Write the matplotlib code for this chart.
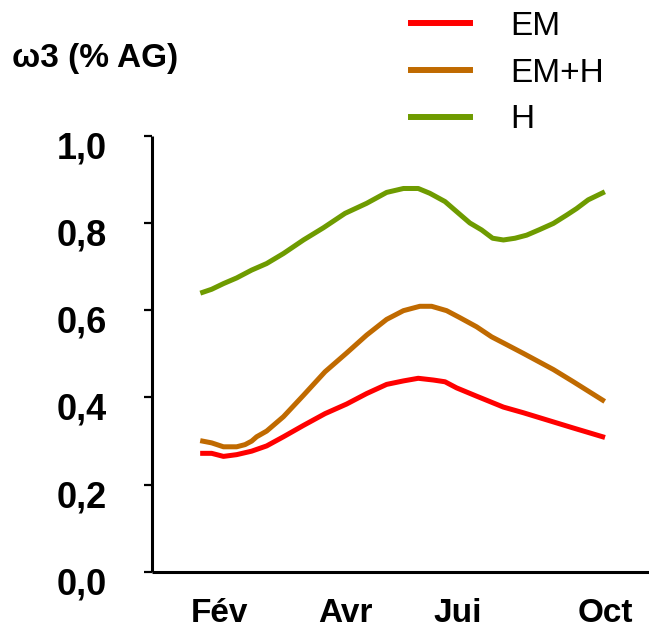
import matplotlib
matplotlib.use("Agg")
import matplotlib.pyplot as plt
import matplotlib.transforms as mtransforms

# time index (0 = first sample, 100 = last sample)
t_H = [0, 2.25, 5.2, 8.5, 12.25, 16, 20.2, 25.2, 30.2, 35.6, 41, 46, 50.2, 53.9, 56.8, 60.6, 63.5, 66.8, 69.75, 72.5, 75.2, 78.1, 81, 84.3, 87.7, 91, 93.5, 96.4, 100]
v_H = [0.641, 0.648, 0.661, 0.674, 0.692, 0.707, 0.730, 0.761, 0.789, 0.822, 0.845, 0.870, 0.879, 0.879, 0.868, 0.849, 0.826, 0.800, 0.784, 0.765, 0.761, 0.765, 0.772, 0.785, 0.799, 0.818, 0.833, 0.853, 0.869]

t_EMH = [0, 2.25, 5.2, 8.5, 10.6, 12.25, 13.5, 16, 20.2, 25.2, 30.6, 36, 41, 46, 50.2, 54.3, 57.25, 61, 64.3, 68.5, 72.25, 75.2, 80.2, 87.7, 92.7, 100]
v_EMH = [0.300, 0.296, 0.287, 0.287, 0.292, 0.300, 0.310, 0.323, 0.356, 0.405, 0.459, 0.502, 0.543, 0.579, 0.599, 0.609, 0.609, 0.599, 0.583, 0.562, 0.539, 0.525, 0.501, 0.464, 0.436, 0.394]

t_EM = [0, 2.25, 5.2, 8.5, 12.25, 16, 20.2, 25.2, 30.6, 36, 41, 46, 50.2, 53.9, 57.7, 60.6, 63.5, 68.5, 75.2, 80.2, 87.7, 92.7, 100]
v_EM = [0.272, 0.272, 0.265, 0.269, 0.277, 0.289, 0.310, 0.336, 0.363, 0.385, 0.409, 0.430, 0.438, 0.444, 0.440, 0.436, 0.422, 0.403, 0.378, 0.365, 0.344, 0.330, 0.310]

month_pos = [4.3, 35.8, 63.8, 100.6]
month_labels = ["Fév", "Avr", "Jui", "Oct"]
y_ticks = [0.0, 0.2, 0.4, 0.6, 0.8, 1.0]
y_labels = ["0,0", "0,2", "0,4", "0,6", "0,8", "1,0"]

series_names = ["EM", "EM+H", "H"]
colors = ["#ff0000", "#c06a00", "#6e9b00"]

plt.rcParams['font.family'] = ['Liberation Sans', 'DejaVu Sans']

fig = plt.figure(figsize=(6.49, 6.32), dpi=100)
ax = fig.add_axes([0.2337, 0.0949, 0.7663, 0.6904])

lines = []
for t, v, c, n in zip([t_EM, t_EMH, t_H], [v_EM, v_EMH, v_H], colors, series_names):
    ln, = ax.plot(t, v, color=c, lw=3.6, label=n, solid_joinstyle='round')
    lines.append(ln)

ax.set_xlim(-12.75, 111.6)
ax.set_ylim(0, 1.0)
for s in ["top", "right"]:
    ax.spines[s].set_visible(False)
for s in ["left", "bottom"]:
    ax.spines[s].set_linewidth(2.2)
    ax.spines[s].set_color("black")
    ax.spines[s].set_capstyle('butt')

ax.set_yticks(y_ticks)
ax.set_yticklabels(y_labels, fontsize=26, fontweight='bold')
ax.set_xticks(month_pos)
ax.set_xticklabels(month_labels, fontsize=24, fontweight='bold')
ax.tick_params(axis='y', direction='out', length=6, width=1.6, pad=26, color='black')
ax.tick_params(axis='x', length=0, pad=19)

yt = ax.yaxis.get_major_ticks()
for i in (0, len(yt) - 1):
    yt[i].tick1line.set_color('#ffff66')

off = mtransforms.ScaledTranslation(0, -9 / 100, fig.dpi_scale_trans)
for lab in ax.get_yticklabels():
    lab.set_transform(lab.get_transform() + off)

fig.text(12 / 649, 1 - 58 / 632, "ω3 (% AG)", fontsize=24, fontweight='bold',
         ha='left', va='center')

leg = fig.legend(handles=lines, labels=series_names, loc='upper left',
                 bbox_to_anchor=(411 / 649, 1 - 11 / 632), frameon=False,
                 fontsize=24, handlelength=1.77, handletextpad=1.2,
                 labelspacing=0.47, borderaxespad=0, borderpad=0)
for h in leg.legend_handles:
    h.set_linewidth(4.3)

fig.savefig("out.png", dpi=100)
